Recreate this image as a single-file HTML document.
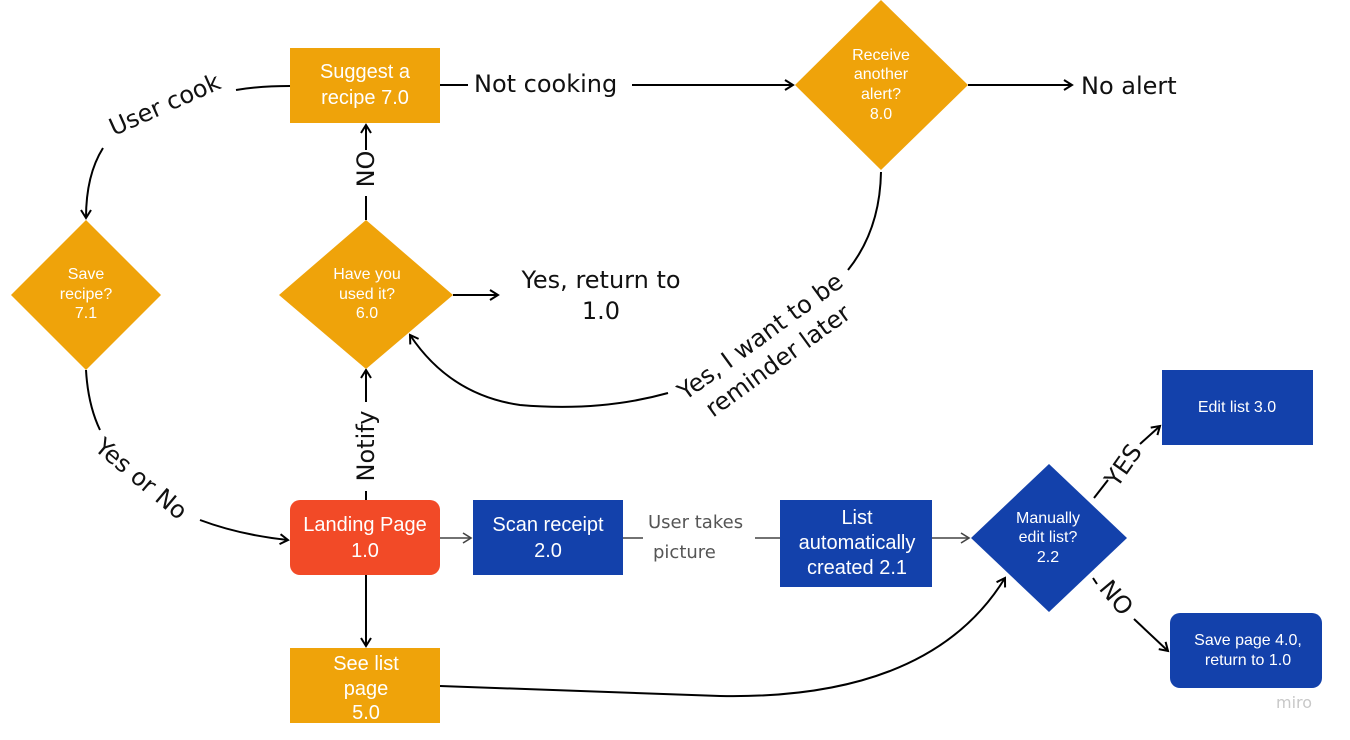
<!DOCTYPE html>
<html><head><meta charset="utf-8"><style>
html,body{margin:0;padding:0;background:#fff;}
svg{display:block;}
.n{font-family:"Liberation Sans",Arial,sans-serif;fill:#fff;text-anchor:middle;}
.l{font-family:"DejaVu Sans","Liberation Sans",sans-serif;fill:#111;}
</style></head><body>
<svg width="1350" height="740" viewBox="0 0 1350 740" xmlns="http://www.w3.org/2000/svg">
<defs>
<marker id="a" markerWidth="12" markerHeight="12" refX="10" refY="6" orient="auto" markerUnits="userSpaceOnUse">
<path d="M2,1 L10,6 L2,11" fill="none" stroke="#000" stroke-width="2"/></marker>
<marker id="g" markerWidth="12" markerHeight="12" refX="10" refY="6" orient="auto" markerUnits="userSpaceOnUse">
<path d="M2,1 L10,6 L2,11" fill="none" stroke="#444" stroke-width="1.6"/></marker>
</defs>
<g fill="none" stroke="#000" stroke-width="2">
<line x1="440" y1="85" x2="468" y2="85"/>
<line x1="632" y1="85" x2="793" y2="85" marker-end="url(#a)"/>
<line x1="968" y1="85" x2="1072" y2="85" marker-end="url(#a)"/>
<path d="M290,86 Q260,86 236,90"/>
<path d="M103,148 Q86,175 86,218" marker-end="url(#a)"/>
<line x1="366" y1="220" x2="366" y2="196"/>
<line x1="366" y1="150" x2="366" y2="125" marker-end="url(#a)"/>
<line x1="453" y1="295" x2="498" y2="295" marker-end="url(#a)"/>
<path d="M881,172 Q880,230 848,270"/>
<path d="M668,393 Q600,412 520,405 Q450,395 410,335" marker-end="url(#a)"/>
<path d="M86,370 Q88,405 100,430"/>
<path d="M200,520 Q240,535 288,540" marker-end="url(#a)"/>
<line x1="366" y1="500" x2="366" y2="491"/>
<line x1="366" y1="402" x2="366" y2="370" marker-end="url(#a)"/>
<line x1="366" y1="575" x2="366" y2="646" marker-end="url(#a)"/>
<path d="M440,686 Q560,690 720,696 Q930,700 1005,578" marker-end="url(#a)"/>
<line x1="1094" y1="498" x2="1108" y2="480"/>
<line x1="1140" y1="444" x2="1160" y2="426" marker-end="url(#a)"/>
<line x1="1093" y1="578" x2="1097" y2="584"/>
<line x1="1134" y1="619" x2="1168" y2="651" marker-end="url(#a)"/>
</g>
<g fill="none" stroke="#444" stroke-width="1.6">
<line x1="440" y1="538" x2="471" y2="538" marker-end="url(#g)"/>
<line x1="623" y1="538" x2="643" y2="538"/>
<line x1="755" y1="538" x2="780" y2="538"/>
<line x1="932" y1="538" x2="969" y2="538" marker-end="url(#g)"/>
</g>
<rect x="290" y="48" width="150" height="75" fill="#efa30a"/>
<text class="n" font-size="20"><tspan x="365" y="78">Suggest a</tspan><tspan x="365" y="104">recipe 7.0</tspan></text>
<polygon points="881,0 968,85 881,170 795,85" fill="#efa30a"/>
<text class="n" font-size="16"><tspan x="881" y="60">Receive</tspan><tspan x="881" y="79">another</tspan><tspan x="881" y="99">alert?</tspan><tspan x="881" y="119">8.0</tspan></text>
<polygon points="86,220 161,295 86,370 11,295" fill="#efa30a"/>
<text class="n" font-size="16"><tspan x="86" y="279">Save</tspan><tspan x="86" y="299">recipe?</tspan><tspan x="86" y="318">7.1</tspan></text>
<polygon points="366,220 453,295 366,369 279,295" fill="#efa30a"/>
<text class="n" font-size="16"><tspan x="367" y="279">Have you</tspan><tspan x="367" y="299">used it?</tspan><tspan x="367" y="318">6.0</tspan></text>
<rect x="290" y="500" width="150" height="75" rx="10" fill="#f24a27"/>
<text class="n" font-size="20"><tspan x="365" y="531">Landing Page</tspan><tspan x="365" y="557">1.0</tspan></text>
<rect x="473" y="500" width="150" height="75" fill="#1341ab"/>
<text class="n" font-size="20"><tspan x="548" y="531">Scan receipt</tspan><tspan x="548" y="557">2.0</tspan></text>
<rect x="780" y="500" width="152" height="87" fill="#1341ab"/>
<text class="n" font-size="20"><tspan x="857" y="524">List</tspan><tspan x="857" y="549">automatically</tspan><tspan x="857" y="574">created 2.1</tspan></text>
<polygon points="1049,464 1127,538 1049,612 971,538" fill="#1341ab"/>
<text class="n" font-size="16"><tspan x="1048" y="523">Manually</tspan><tspan x="1048" y="542">edit list?</tspan><tspan x="1048" y="562">2.2</tspan></text>
<rect x="1162" y="370" width="151" height="75" fill="#1341ab"/>
<text class="n" font-size="16" x="1237" y="412">Edit list 3.0</text>
<rect x="1170" y="613" width="152" height="75" rx="10" fill="#1341ab"/>
<text class="n" font-size="16"><tspan x="1248" y="645">Save page 4.0,</tspan><tspan x="1248" y="665">return to 1.0</tspan></text>
<rect x="290" y="648" width="150" height="75" fill="#efa30a"/>
<text class="n" font-size="20"><tspan x="366" y="670">See list</tspan><tspan x="366" y="695">page</tspan><tspan x="366" y="719">5.0</tspan></text>
<text class="l" font-size="24" x="474" y="92">Not cooking</text>
<text class="l" font-size="24" x="1081" y="94">No alert</text>
<text class="l" font-size="24" text-anchor="middle"><tspan x="601" y="288">Yes, return to</tspan><tspan x="601" y="319">1.0</tspan></text>
<text class="l" font-size="24" text-anchor="middle" transform="translate(168,112) rotate(-24)">User cook</text>
<text class="l" font-size="24" text-anchor="middle" transform="translate(374,169) rotate(-90)">NO</text>
<text class="l" font-size="24" text-anchor="middle" transform="translate(374,446) rotate(-90)">Notify</text>
<text class="l" font-size="24" text-anchor="middle" transform="translate(136,485) rotate(40)">Yes or No</text>
<text class="l" font-size="24" text-anchor="middle" transform="translate(765,343) rotate(-36)"><tspan x="0" y="0">Yes, I want to be</tspan><tspan x="0" y="30">reminder later</tspan></text>
<text class="l" font-size="24" text-anchor="middle" transform="translate(1130,470) rotate(-55)">YES</text>
<text class="l" font-size="24" text-anchor="middle" transform="translate(1110,603) rotate(50)">NO</text>
<text class="l" font-size="18" style="fill:#555"><tspan x="648" y="528">User takes</tspan><tspan x="653" y="558">picture</tspan></text>
<text font-family="DejaVu Sans,sans-serif" font-size="16" fill="#c8c8c8" x="1276" y="708">miro</text>
</svg>
</body></html>
